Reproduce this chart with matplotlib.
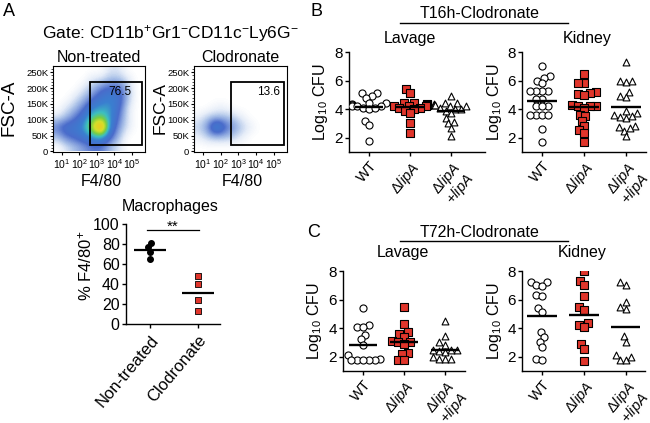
import numpy as np
import matplotlib
matplotlib.use('Agg')
import matplotlib.pyplot as plt
from matplotlib.colors import LinearSegmentedColormap
from matplotlib.lines import Line2D
from matplotlib.patches import Rectangle

plt.rcParams['font.family'] = ['Liberation Sans', 'DejaVu Sans']
plt.rcParams['mathtext.fontset'] = 'custom'
plt.rcParams['mathtext.rm'] = 'Liberation Sans'
plt.rcParams['mathtext.it'] = 'Liberation Sans:italic'
plt.rcParams['mathtext.bf'] = 'Liberation Sans:bold'

W, H = 650, 423

"""Flow density read off the dot plots (rows: FSC-A 0K->270K, cols: F4/80 log 0.5->6.0)"""
nontreated_density = np.array([
    [0.0, 0.5, 1.0, 1.5, 2.0, 2.0, 1.0, 0.5, 0.0, 0.0, 0.0],
    [1.0, 2.0, 2.5, 3.0, 4.0, 4.5, 2.5, 1.0, 0.0, 0.0, 0.0],
    [2.0, 3.0, 3.0, 4.0, 6.5, 10.0, 3.5, 1.5, 0.5, 0.0, 0.0],
    [0.5, 1.0, 2.0, 3.0, 5.0, 5.5, 4.0, 2.0, 0.5, 0.0, 0.0],
    [0.0, 0.5, 1.0, 2.0, 3.5, 4.0, 4.0, 2.5, 0.5, 0.0, 0.0],
    [0.0, 0.0, 0.5, 1.0, 2.0, 3.0, 3.5, 3.0, 1.0, 0.0, 0.0],
    [0.0, 0.0, 0.0, 0.5, 1.0, 2.0, 2.5, 2.5, 1.0, 0.0, 0.0],
    [0.0, 0.0, 0.0, 0.0, 0.5, 0.5, 1.0, 1.0, 0.5, 0.0, 0.0],
    [0.0, 0.0, 0.0, 0.0, 0.0, 0.0, 0.5, 0.5, 0.0, 0.0, 0.0],
])
clodronate_density = np.array([
    [0.0, 0.0, 0.0, 0.0, 0.0, 0.0, 0.0, 0.0, 0.0, 0.0, 0.0],
    [0.3, 0.8, 1.0, 1.0, 0.8, 0.3, 0.0, 0.0, 0.0, 0.0, 0.0],
    [0.8, 1.5, 4.5, 2.5, 1.5, 0.8, 0.3, 0.0, 0.0, 0.0, 0.0],
    [0.3, 0.8, 1.0, 1.0, 0.8, 0.3, 0.0, 0.0, 0.0, 0.0, 0.0],
    [0.0, 0.0, 0.3, 0.3, 0.0, 0.0, 0.0, 0.0, 0.0, 0.0, 0.0],
    [0.0, 0.0, 0.0, 0.0, 0.0, 0.0, 0.0, 0.0, 0.0, 0.0, 0.0],
    [0.0, 0.0, 0.0, 0.0, 0.0, 0.0, 0.0, 0.0, 0.0, 0.0, 0.0],
    [0.0, 0.0, 0.0, 0.0, 0.0, 0.0, 0.0, 0.0, 0.0, 0.0, 0.0],
    [0.0, 0.0, 0.0, 0.0, 0.0, 0.0, 0.0, 0.0, 0.0, 0.0, 0.0],
])
gate_pct = ['76.5', '13.6']
flow_titles = ['Non-treated', 'Clodronate']
fsc_ticks = [0, 50000, 100000, 150000, 200000, 250000]
fsc_labels = ['0', '50K', '100K', '150K', '200K', '250K']
f480_ticks = [1, 2, 3, 4, 5]
f480_labels = ['$10^{1}$', '$10^{2}$', '$10^{3}$', '$10^{4}$', '$10^{5}$']

"""Macrophage % F4/80+"""
macro_groups = ['Non-treated', 'Clodronate']
macro_nontreated = [81, 77, 72.5, 65]
macro_clodronate = [48, 40, 23.6, 13.3]
macro_lines = [74, 31.5]

"""CFU data (log10)"""
groups = ['WT', 'Δ$\\mathit{lipA}$', 'Δ$\\mathit{lipA}$\n+$\\mathit{lipA}$']

t16_lav_wt = [5.1, 4.9, 5.1, 4.8, 4.45, 4.4, 4.35, 4.3, 4.3, 4.25, 4.2, 4.2, 4.1, 4.0, 4.1, 3.2, 2.9, 1.8]
t16_lav_del = [5.4, 5.1, 4.45, 4.4, 4.35, 4.3, 4.3, 4.25, 4.2, 4.2, 4.1, 4.1, 4.0, 3.9, 3.7, 3.0, 2.3]
t16_lav_comp = [4.9, 4.45, 4.4, 4.35, 4.3, 4.3, 4.2, 4.2, 4.1, 4.0, 4.0, 3.9, 3.7, 3.4, 3.1, 3.0, 2.65, 2.15]
t16_lav_lines = [4.15, 4.15, 3.88]

t16_kid_wt = [7.0, 6.3, 6.2, 6.0, 5.8, 5.3, 5.3, 5.3, 5.3, 4.7, 4.7, 4.2, 4.2, 4.2, 3.6, 3.6, 3.6, 3.6, 2.6, 1.7]
t16_kid_del = [6.45, 5.8, 5.8, 5.2, 5.15, 5.05, 5.0, 4.3, 4.25, 4.25, 4.2, 4.1, 3.6, 3.55, 3.2, 2.8, 2.55, 2.3, 1.7]
t16_kid_comp = [7.3, 6.0, 5.9, 5.95, 5.2, 4.9, 4.85, 3.9, 3.75, 3.6, 3.5, 3.45, 3.4, 2.85, 2.75, 2.65, 2.5, 2.1]
t16_kid_lines = [4.6, 4.15, 4.15]

t72_lav_wt = [5.4, 4.2, 4.1, 4.1, 3.55, 3.25, 2.85, 2.15, 1.85, 1.8, 1.8, 1.8, 1.8, 1.8]
t72_lav_del = [5.45, 4.3, 3.7, 3.6, 3.4, 3.1, 3.0, 3.0, 2.9, 2.25, 2.2, 1.8, 1.8]
t72_lav_comp = [4.5, 3.45, 3.0, 2.85, 2.5, 2.45, 2.45, 2.4, 2.3, 2.0, 1.85, 1.85, 1.85]
t72_lav_lines = [2.85, 3.05, 2.5]

t72_kid_wt = [7.25, 7.2, 7.0, 6.95, 6.35, 6.25, 5.4, 5.1, 3.7, 3.35, 3.05, 2.65, 1.85, 1.75]
t72_kid_del = [8.0, 7.3, 7.0, 6.25, 5.5, 5.25, 4.35, 4.25, 4.05, 2.9, 2.55, 1.7]
t72_kid_comp = [7.2, 7.05, 5.8, 5.5, 5.35, 3.45, 3.05, 2.1, 1.75, 1.75, 2.0]
t72_kid_lines = [4.85, 4.9, 4.05]

RED = '#e0352b'

flow_cmap = LinearSegmentedColormap.from_list('flow', [
    (0.0, '#ffffff'), (0.04, '#e6edf8'), (0.1, '#a9c0e8'), (0.22, '#4a6ccb'),
    (0.35, '#3a7fd0'), (0.45, '#3dbfc0'), (0.55, '#78cd45'), (0.65, '#d3df2a'),
    (0.78, '#f6c21c'), (0.9, '#f2781d'), (1.0, '#e31e1e')])


def px_axes(fig, l, t, r, b):
    return fig.add_axes([l / W, 1 - b / H, (r - l) / W, (b - t) / H])


def ftext(fig, x, y, s, **kw):
    return fig.text(x / W, 1 - y / H, s, **kw)


def swarm_x(ax, xc, vals, diam=6.0, maxw=18.0):
    # simple beeswarm in pixel space so points sit side by side
    vals = np.asarray(vals, dtype=float)
    xy = ax.transData.transform(np.column_stack([np.full(len(vals), xc), vals]))
    x0 = xy[0, 0]
    ypx = xy[:, 1]
    placed = []
    offs = np.zeros(len(vals))
    for i in np.argsort(ypx):
        y = ypx[i]
        cands = [0.0]
        for px_, py_ in placed:
            dy = abs(py_ - y)
            if dy < diam:
                dx = np.sqrt(diam ** 2 - dy ** 2)
                cands += [px_ + dx, px_ - dx]
        cands.sort(key=lambda c: (abs(c), c))
        best = None
        for c in cands:
            if abs(c) > maxw:
                continue
            if all((c - px_) ** 2 + (y - py_) ** 2 >= diam ** 2 - 1e-6 for px_, py_ in placed):
                best = c
                break
        if best is None:
            best = np.clip(cands[-1], -maxw, maxw) if len(placed) % 2 else np.clip(cands[-2], -maxw, maxw)
        placed.append((best, y))
        offs[i] = best
    inv = ax.transData.inverted()
    return inv.transform(np.column_stack([x0 + offs, ypx]))[:, 0]


fig = plt.figure(figsize=(6.5, 4.23), dpi=100)

# ---------------- A: flow plots ----------------
flow_boxes = [(53, 66, 145, 152), (194, 66, 287, 152)]
flow_dens = [nontreated_density, clodronate_density]
pct_x = [5.0, 5.35]
for k in range(2):
    l, t, r, b = flow_boxes[k]
    ax = px_axes(fig, l, t, r, b)
    ax.imshow(flow_dens[k], origin='lower', extent=[0.5, 6.0, 0, 270000], aspect='auto',
              cmap=flow_cmap, vmin=0, vmax=10, interpolation='bicubic')
    ax.set_xlim(0.5, 5.75)
    ax.set_ylim(-2000, 270000)
    ax.add_patch(Rectangle((2.6, 19000), 5.58 - 2.6, 200000, fill=False, lw=1.3, ec='black'))
    ax.text(pct_x[k], 208000, gate_pct[k], ha='right', va='top', fontsize=8.5)
    ax.set_yticks(fsc_ticks)
    ax.set_yticklabels(fsc_labels, fontsize=6.8)
    ax.set_yticks(np.arange(0, 270000, 10000), minor=True)
    ax.set_xticks(f480_ticks)
    ax.set_xticklabels(f480_labels, fontsize=7.5)
    ax.tick_params(axis='both', which='major', length=2.5, width=0.8, pad=1)
    ax.tick_params(axis='both', which='minor', length=1.2, width=0.5)
    for s in ax.spines.values():
        s.set_linewidth(0.8)
    ftext(fig, (l + r) / 2, 57, flow_titles[k], ha='center', va='center', fontsize=11.5)
    ftext(fig, (l + r) / 2 + 2, 181, 'F4/80', ha='center', va='center', fontsize=11.5)
ftext(fig, 9, 108, 'FSC-A', ha='center', va='center', rotation=90, fontsize=13.5)
ftext(fig, 160, 108, 'FSC-A', ha='center', va='center', rotation=90, fontsize=12.5)
ftext(fig, 170, 33, 'Gate: CD11b$^{+}$Gr1$^{-}$CD11c$^{-}$Ly6G$^{-}$', ha='center', va='center', fontsize=12.5)

# ---------------- A: macrophages ----------------
ax = px_axes(fig, 126, 224, 220, 324)
ax.set_xlim(-0.5, 1.46)
ax.set_ylim(0, 100)
xs = swarm_x(ax, 0, macro_nontreated, diam=5.0)
ax.scatter(xs, macro_nontreated, s=16, marker='o', c='black', zorder=3)
xs = swarm_x(ax, 1, macro_clodronate, diam=5.0)
ax.scatter(xs, macro_clodronate, s=22, marker='s', c=RED, edgecolors='black', linewidths=0.6, zorder=3)
for i, m in enumerate(macro_lines):
    ax.hlines(m, i - 0.33, i + 0.33, colors='black', lw=1.6, zorder=4)
ax.plot([-0.06, 1.02], [94, 94], color='black', lw=0.9, clip_on=False)
ax.text(0.48, 93, '**', ha='center', va='baseline', fontsize=11)
ax.set_yticks([0, 20, 40, 60, 80, 100])
ax.tick_params(axis='y', labelsize=11.5, length=3, width=1, pad=1.5)
ax.set_xticks([0, 1])
ax.set_xticklabels(macro_groups, rotation=50, ha='right', va='top', rotation_mode='anchor', fontsize=12)
ax.tick_params(axis='x', length=3, width=1, pad=3)
ax.spines['top'].set_visible(False)
ax.spines['right'].set_visible(False)
for s in ['left', 'bottom']:
    ax.spines[s].set_linewidth(1.0)
ftext(fig, 170, 207, 'Macrophages', ha='center', va='center', fontsize=11.5)
ftext(fig, 85, 266, '% F4/80$^{+}$', ha='center', va='center', rotation=90, fontsize=12)

# ---------------- B / C: CFU ----------------
cfu_panels = [
    ((349, 52, 485, 152), (-0.49, 2.83), [t16_lav_wt, t16_lav_del, t16_lav_comp], t16_lav_lines, 321),
    ((522, 52, 646, 152), (-0.48, 2.48), [t16_kid_wt, t16_kid_del, t16_kid_comp], t16_kid_lines, 494),
    ((343, 271, 465, 371), (-0.49, 2.49), [t72_lav_wt, t72_lav_del, t72_lav_comp], t72_lav_lines, 315),
    ((522, 271, 645, 371), (-0.48, 2.46), [t72_kid_wt, t72_kid_del, t72_kid_comp], t72_kid_lines, 494),
]
marker_styles = [
    dict(marker='o', facecolors='white', edgecolors='black', s=26, linewidths=0.8),
    dict(marker='s', facecolors=RED, edgecolors='black', s=28, linewidths=0.8),
    dict(marker='^', facecolors='white', edgecolors='black', s=24, linewidths=0.8),
]
for (l, t, r, b), xl, series, lines, ylab_x in cfu_panels:
    ax = px_axes(fig, l, t, r, b)
    ax.set_xlim(*xl)
    ax.set_ylim(1, 8)
    for i, vals in enumerate(series):
        xs = swarm_x(ax, i, vals, diam=6.0, maxw=17.0)
        ax.scatter(xs, vals, zorder=3, **marker_styles[i])
        ax.hlines(lines[i], i - 0.35, i + 0.35, colors='black', lw=1.7, zorder=4)
    ax.set_yticks([2, 4, 6, 8])
    ax.tick_params(axis='y', labelsize=11, length=3, width=1, pad=1.5)
    ax.set_xticks([0, 1, 2])
    labs = ax.set_xticklabels(groups, rotation=50, ha='right', va='top', rotation_mode='anchor', fontsize=10.5)
    for lab in labs:
        lab.set_linespacing(0.95)
    ax.tick_params(axis='x', length=3, width=1, pad=2)
    ax.spines['top'].set_visible(False)
    ax.spines['right'].set_visible(False)
    for s in ['left', 'bottom']:
        ax.spines[s].set_linewidth(1.0)
    ftext(fig, ylab_x, (t + b) / 2, 'Log$_{10}$ CFU', ha='center', va='center', rotation=90, fontsize=11.5)

ftext(fig, 480, 13, 'T16h-Clodronate', ha='center', va='center', fontsize=11.5)
fig.add_artist(Line2D([400 / W, 568 / W], [1 - 23 / H, 1 - 23 / H], color='black', lw=1.0))
ftext(fig, 410, 39, 'Lavage', ha='center', va='center', fontsize=11.5)
ftext(fig, 587, 39, 'Kidney', ha='center', va='center', fontsize=11.5)
ftext(fig, 480, 232, 'T72h-Clodronate', ha='center', va='center', fontsize=11.5)
fig.add_artist(Line2D([400 / W, 568 / W], [1 - 241 / H, 1 - 241 / H], color='black', lw=1.0))
ftext(fig, 403, 253, 'Lavage', ha='center', va='center', fontsize=11.5)
ftext(fig, 582, 253, 'Kidney', ha='center', va='center', fontsize=11.5)

# panel letters
ftext(fig, 9, 12, 'A', ha='center', va='center', fontsize=13)
ftext(fig, 317, 12, 'B', ha='center', va='center', fontsize=13)
ftext(fig, 314, 232, 'C', ha='center', va='center', fontsize=13)

fig.savefig('out.png', dpi=100)
